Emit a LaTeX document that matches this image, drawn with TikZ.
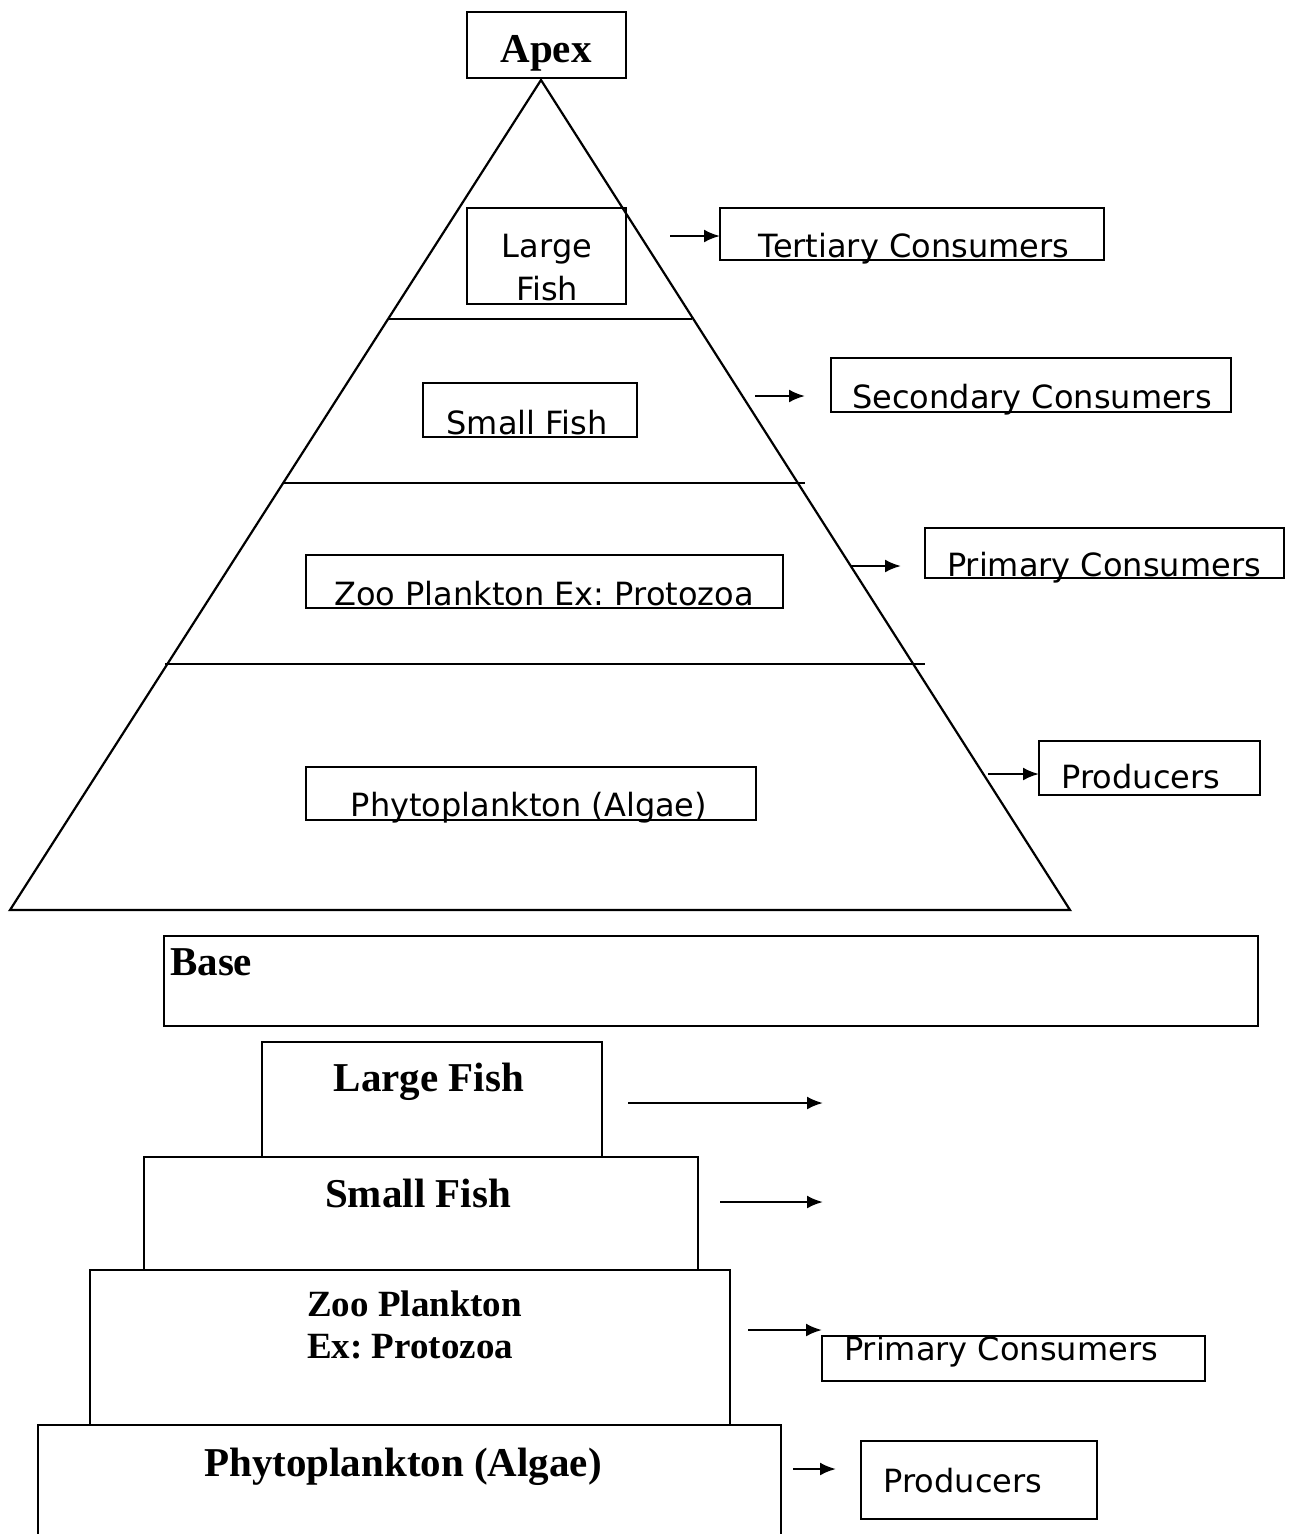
\documentclass[tikz,border=0pt]{standalone}
\usepackage{fontspec}
\setmainfont{Liberation Serif}
\newfontfamily\verd{DejaVu Sans}
\usetikzlibrary{arrows.meta}
\frenchspacing
\tikzset{
  box/.style={draw, line width=2.2pt, inner sep=0pt, rectangle},
  sanstxt/.style={inner sep=0pt, anchor=base, font=\verd\fontsize{32}{38}\selectfont},
  boldtxt/.style={inner sep=0pt, anchor=base, font=\fontsize{41}{46}\selectfont\bfseries},
  midtxt/.style={inner sep=0pt, anchor=base west, font=\fontsize{37}{42}\selectfont\bfseries},
  edge/.style={line width=2.2pt},
  arr/.style={line width=2.4pt, -{Latex[length=16pt,width=13pt]}},
}
\newcommand\mybox[5]{\node[box, minimum width={#4-#2}, minimum height={#5-#3}] (#1) at ({(#2+#4)/2},{(#3+#5)/2}) {};}
\begin{document}
\begin{tikzpicture}[x=1pt,y=-1pt]
\useasboundingbox (0,0) rectangle (1293,1534);
% pyramid
\coordinate (top) at (541,80);
\coordinate (bl) at (10,910);
\coordinate (br) at (1070,910);
\draw[edge] (bl) -- (top) -- (br) -- cycle;
\coordinate (l1a) at (388,319); \coordinate (l1b) at (692,319);
\coordinate (l2a) at (283,483); \coordinate (l2b) at (805,483);
\coordinate (l3a) at (165,664); \coordinate (l3b) at (925,664);
\draw[edge] (l1a) -- (l1b);
\draw[edge] (l2a) -- (l2b);
\draw[edge] (l3a) -- (l3b);
% apex
\mybox{apex}{467}{12}{626}{78}
\node[boldtxt] (apext) at (546,62) {Apex};
% large fish
\mybox{lf}{467}{208}{626}{304}
\node[sanstxt] (lft1) at (547,257) {Large};
\node[sanstxt] (lft2) at (547,300) {Fish};
\mybox{tc}{720}{208}{1104}{260}
\node[sanstxt] (tct) at (914,257) {Tertiary Consumers};
\coordinate (a1s) at (670,236); \coordinate (a1e) at (720,236);
\draw[arr] (a1s) -- (a1e);
% small fish
\mybox{sf}{423}{383}{637}{437}
\node[sanstxt] (sft) at (527,434) {Small Fish};
\mybox{sc}{831}{358}{1231}{412}
\node[sanstxt] (sct) at (1032,408) {Secondary Consumers};
\coordinate (a2s) at (755,396); \coordinate (a2e) at (805,396);
\draw[arr] (a2s) -- (a2e);
% zoo plankton
\mybox{zp}{306}{555}{783}{608}
\node[sanstxt] (zpt) at (544,605) {Zoo Plankton Ex: Protozoa};
\mybox{pc}{925}{528}{1284}{578}
\node[sanstxt] (pct) at (1104,576) {Primary Consumers};
\coordinate (a3s) at (851,566); \coordinate (a3e) at (901,566);
\draw[arr] (a3s) -- (a3e);
% phytoplankton
\mybox{ph}{306}{767}{756}{820}
\node[sanstxt] (pht) at (529,816) {Phytoplankton (Algae)};
\mybox{pr}{1039}{741}{1260}{795}
\node[sanstxt] (prt) at (1141,788) {Producers};
\coordinate (a4s) at (988,774); \coordinate (a4e) at (1039,774);
\draw[arr] (a4s) -- (a4e);
% base
\mybox{base}{164}{936}{1258}{1026}
\node[boldtxt, anchor=base west] (baset) at (170,975) {Base};
% bottom stack
\mybox{blf}{262}{1042}{602}{1157}
\node[boldtxt] (blft) at (429,1091) {Large Fish};
\coordinate (b1s) at (628,1103); \coordinate (b1e) at (823,1103);
\draw[arr] (b1s) -- (b1e);
\mybox{bsf}{144}{1157}{698}{1270}
\node[boldtxt] (bsft) at (418,1207) {Small Fish};
\coordinate (b2s) at (720,1202); \coordinate (b2e) at (823,1202);
\draw[arr] (b2s) -- (b2e);
\mybox{bzp}{90}{1270}{730}{1425}
\node[midtxt] (bzpt1) at (307,1316) {Zoo Plankton};
\node[midtxt] (bzpt2) at (307,1358) {Ex: Protozoa};
\mybox{bpc}{822}{1336}{1205}{1381}
\node[sanstxt] (bpct) at (1001,1360) {Primary Consumers};
\coordinate (b3s) at (748,1330); \coordinate (b3e) at (822,1330);
\draw[arr] (b3s) -- (b3e);
\coordinate (ph1) at (38,1534); \coordinate (ph2) at (38,1425);
\coordinate (ph3) at (781,1425); \coordinate (ph4) at (781,1534);
\draw[edge] (ph1) -- (ph2) -- (ph3) -- (ph4);
\node[boldtxt] (bpht) at (403,1476) {Phytoplankton (Algae)};
\coordinate (b4s) at (793,1469); \coordinate (b4e) at (836,1469);
\draw[arr] (b4s) -- (b4e);
\mybox{bpr}{861}{1441}{1097}{1519}
\node[sanstxt] (bprt) at (963,1492) {Producers};
\end{tikzpicture}
\end{document}
